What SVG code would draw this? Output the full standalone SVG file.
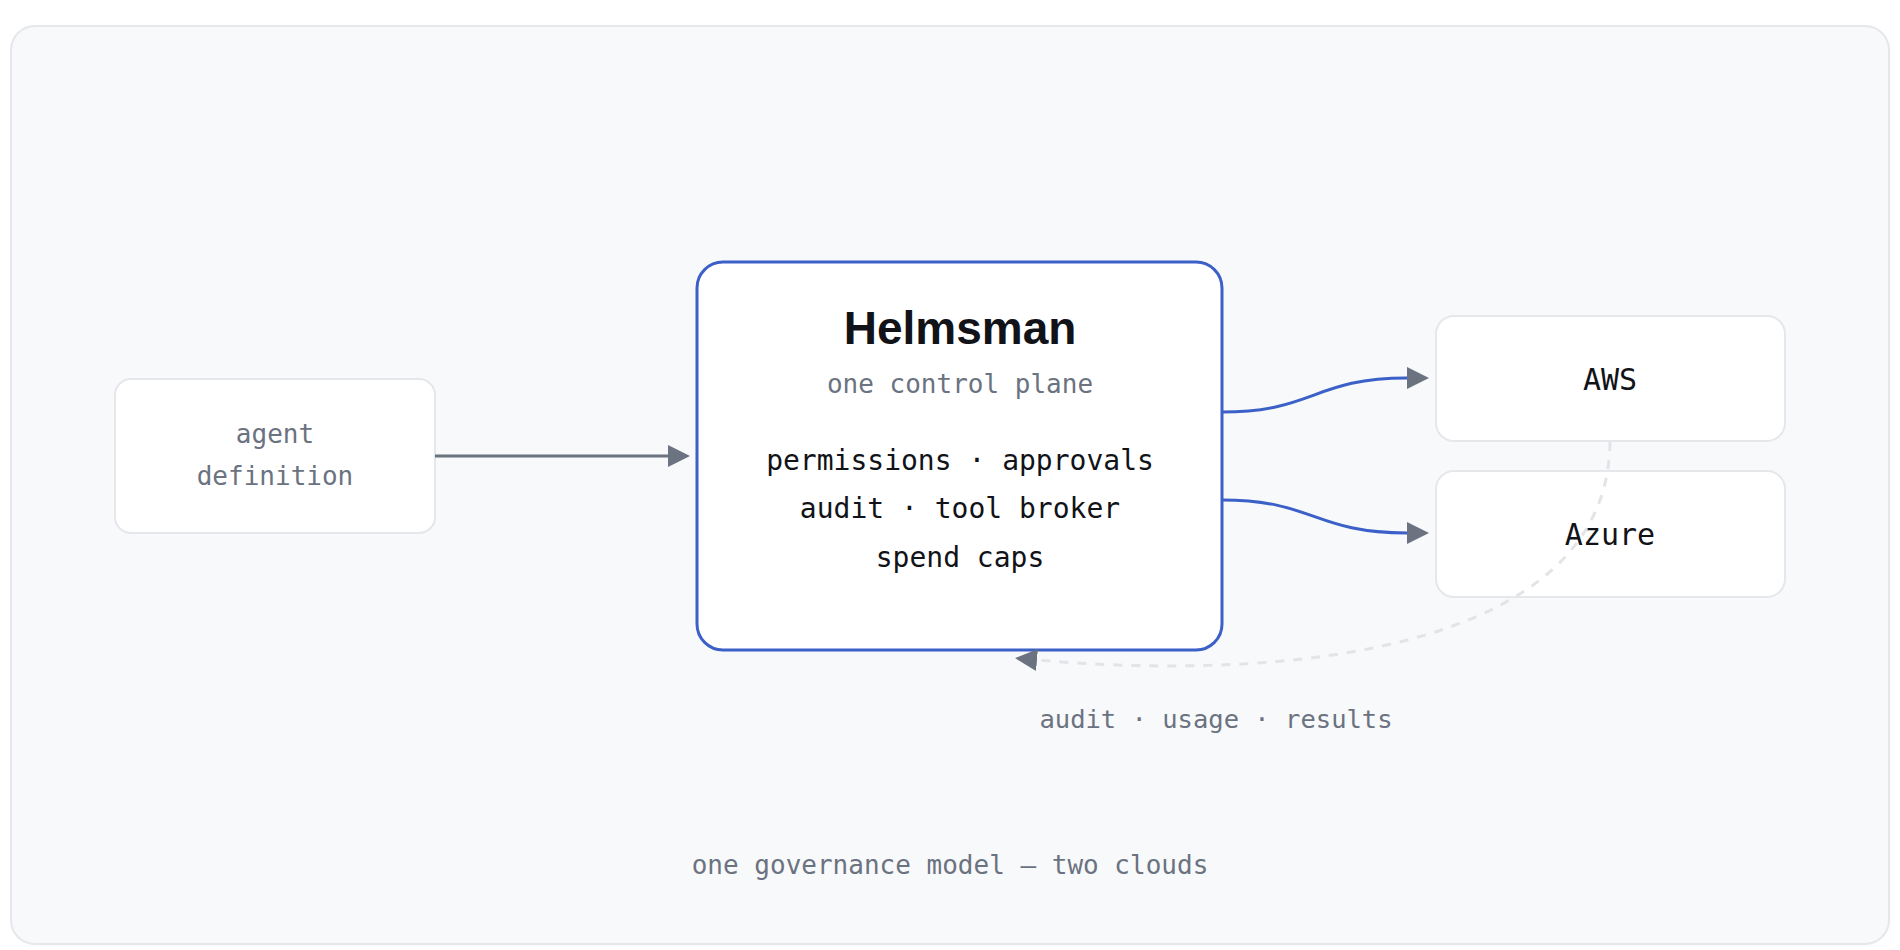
<svg xmlns="http://www.w3.org/2000/svg" width="1900" height="950" viewBox="0 0 1900 950">
  <style>
    .mono { font-family: "DejaVu Sans Mono", "Liberation Mono", monospace; }
    .gray { fill: #6b7280; }
    .dark { fill: #111318; }
    .node { fill: #ffffff; stroke: #e5e7eb; stroke-width: 2; }
    .main { fill: #ffffff; stroke: #3b61c8; stroke-width: 3; }
    .edge-gray { fill: none; stroke: #6b7280; stroke-width: 3; }
    .edge-blue { fill: none; stroke: #3b61c8; stroke-width: 3; }
    .edge-dash { fill: none; stroke: #e2e4e8; stroke-width: 3; stroke-dasharray: 9 9; }
  </style>
  <defs>
    <marker id="arrow" markerUnits="userSpaceOnUse" markerWidth="22" markerHeight="22" viewBox="0 0 22 22" refX="0" refY="11" orient="auto">
      <path d="M0,0 L22,11 L0,22 Z" fill="#6b7280"/>
    </marker>
  </defs>

  <rect x="11" y="26" width="1878" height="918" rx="24" ry="24" fill="#f8f9fb" stroke="#e5e7eb" stroke-width="2"/>

  <g id="node-agent">
    <rect class="node" x="115" y="379" width="320" height="154" rx="16" ry="16"/>
    <text class="mono gray" font-size="26" text-anchor="middle" x="275" y="443">agent</text>
    <text class="mono gray" font-size="26" text-anchor="middle" x="275" y="485">definition</text>
  </g>

  <g id="node-helmsman">
    <rect class="main" x="697" y="262" width="525" height="388" rx="26" ry="26"/>
    <text font-family="'Liberation Sans', Arial, sans-serif" font-weight="bold" font-size="46" class="dark" text-anchor="middle" x="960" y="344">Helmsman</text>
    <text class="mono gray" font-size="26" text-anchor="middle" x="960" y="393">one control plane</text>
    <text class="mono dark" font-size="28" text-anchor="middle" x="960" y="470">permissions · approvals</text>
    <text class="mono dark" font-size="28" text-anchor="middle" x="960" y="518">audit · tool broker</text>
    <text class="mono dark" font-size="28" text-anchor="middle" x="960" y="567">spend caps</text>
  </g>

  <g id="node-aws">
    <rect class="node" x="1436" y="316" width="349" height="125" rx="18" ry="18"/>
    <text class="mono dark" font-size="30" text-anchor="middle" x="1610" y="390">AWS</text>
  </g>

  <g id="node-azure">
    <rect class="node" x="1436" y="471" width="349" height="126" rx="18" ry="18"/>
    <text class="mono dark" font-size="30" text-anchor="middle" x="1610" y="545">Azure</text>
  </g>

  <g id="connectors">
    <path class="edge-gray" d="M435,456 L668,456" marker-end="url(#arrow)"/>
    <path class="edge-blue" d="M1222,412 C1314,412 1314,378 1407,378" marker-end="url(#arrow)"/>
    <path class="edge-blue" d="M1222,500 C1314,500 1314,533 1407,533" marker-end="url(#arrow)"/>
    <path class="edge-dash" d="M1610,442 C1608,650 1290,682 1037,660" marker-end="url(#arrow)"/>
    <text class="mono gray" font-size="25.5" text-anchor="middle" x="1216" y="728">audit · usage · results</text>
  </g>

  <text class="mono gray" font-size="26" text-anchor="middle" x="950" y="874">one governance model — two clouds</text>
</svg>
